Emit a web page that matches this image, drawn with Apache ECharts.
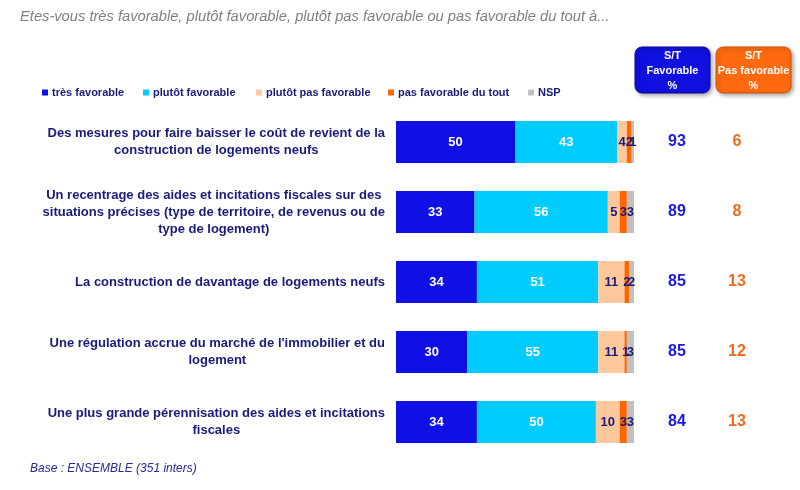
<!DOCTYPE html>
<html>
<head>
<meta charset="utf-8">
<script src="https://cdn.jsdelivr.net/npm/echarts@6/dist/echarts.min.js"></script>
<style>
  html, body { margin: 0; padding: 0; background: #fff; }
  #chart { width: 800px; height: 490px; }
</style>
</head>
<body>
<div id="chart"></div>
<script>
// survey items, top to bottom
const items = [
  'Des mesures pour faire baisser le coût de revient de la\nconstruction de logements neufs',
  'Un recentrage des aides et incitations fiscales sur des\nsituations précises (type de territoire, de revenus ou de\ntype de logement)',
  'La construction de davantage de logements neufs',
  'Une régulation accrue du marché de l\'immobilier et du\nlogement',
  'Une plus grande pérennisation des aides et incitations\nfiscales'
];
const seriesNames = ['très favorable', 'plutôt favorable', 'plutôt pas favorable', 'pas favorable du tout', 'NSP'];
const tresFavorable = [50, 33, 34, 30, 34];
const plutotFavorable = [43, 56, 51, 55, 50];
const plutotPasFavorable = [4, 5, 11, 11, 10];
const pasFavorableDuTout = [2, 3, 2, 1, 3];
const nsp = [1, 3, 2, 3, 3];
const stFavorable = [93, 89, 85, 85, 84];
const stPasFavorable = [6, 8, 13, 12, 13];

const colors = ['#0f0fe6', '#00ccff', '#fcc89c', '#ff6600', '#c0c0c0'];
const labelColors = ['#fff', '#fff', '#1a1a7a', '#1a1a7a', '#1a1a7a'];
const values = [tresFavorable, plutotFavorable, plutotPasFavorable, pasFavorableDuTout, nsp];
const legendLefts = [42, 143, 256, 388, 528];

const chart = echarts.init(document.getElementById('chart'));

const series = seriesNames.map((name, i) => ({
  name: name,
  type: 'bar',
  stack: 'total',
  barWidth: 42,
  data: values[i],
  itemStyle: { color: colors[i] },
  label: {
    show: true,
    position: 'inside',
    color: labelColors[i],
    fontFamily: 'Liberation Sans, Arial, sans-serif',
    fontWeight: 'bold',
    fontSize: 13
  }
}));

// one legend per item so each sits where the original puts it
const legends = seriesNames.map((name, i) => ({
  data: [name],
  left: legendLefts[i],
  top: 87,
  icon: 'rect',
  itemWidth: 6,
  itemHeight: 6,
  itemGap: 0,
  padding: 0,
  textStyle: {
    color: '#1a1a7a',
    fontFamily: 'Liberation Sans, Arial, sans-serif',
    fontWeight: 'bold',
    fontSize: 11,
    padding: [0, 0, 0, -1]
  }
}));

const boxText = { fill: '#fff', align: 'center', font: 'bold 11px Liberation Sans, Arial, sans-serif', lineHeight: 15 };

const option = {
  animation: false,
  textStyle: { fontFamily: 'Liberation Sans, Arial, sans-serif' },
  title: {
    text: 'Etes-vous très favorable, plutôt favorable, plutôt pas favorable ou pas favorable du tout à...',
    left: 15,
    top: 4,
    textStyle: { color: '#7f7f7f', fontStyle: 'italic', fontWeight: 'normal', fontSize: 14.7 }
  },
  legend: legends,
  grid: { left: 396, right: 166, top: 107, height: 350 },
  xAxis: { type: 'value', min: 0, max: 100, show: false },
  yAxis: [
    {
      type: 'category',
      inverse: true,
      data: items,
      axisLine: { show: false },
      axisTick: { show: false },
      axisLabel: {
        margin: 11,
        align: 'right',
        formatter: v => v.split('\n').map(l => '{c|' + l + '}').join('\n'),
        rich: {
          c: {
            align: 'center',
            color: '#1a1a7a',
            fontWeight: 'bold',
            fontSize: 13,
            lineHeight: 17,
            fontFamily: 'Liberation Sans, Arial, sans-serif'
          }
        }
      }
    },
    {
      type: 'category',
      inverse: true,
      position: 'right',
      data: items,
      axisLine: { show: false },
      axisTick: { show: false },
      axisLabel: {
        margin: 13,
        align: 'left',
        formatter: (v, i) => '{f|' + stFavorable[i] + '}{p|' + stPasFavorable[i] + '}',
        rich: {
          f: { width: 60, align: 'center', color: '#1a1ae6', fontWeight: 'bold', fontSize: 16 },
          p: { width: 60, align: 'center', color: '#f26a1b', fontWeight: 'bold', fontSize: 16 }
        }
      }
    }
  ],
  graphic: [
    {
      type: 'rect',
      shape: { x: 635, y: 47, width: 75, height: 46, r: 7 },
      style: { fill: '#1010e0', stroke: '#0a0a90', lineWidth: 1, shadowBlur: 4, shadowOffsetX: 2, shadowOffsetY: 2, shadowColor: 'rgba(0,0,0,0.35)' }
    },
    { type: 'text', x: 672.5, y: 48, style: Object.assign({ text: 'S/T\nFavorable\n%' }, boxText) },
    {
      type: 'rect',
      shape: { x: 716, y: 47, width: 75, height: 46, r: 7 },
      style: { fill: '#ff6a10', stroke: '#d05000', lineWidth: 1, shadowBlur: 4, shadowOffsetX: 2, shadowOffsetY: 2, shadowColor: 'rgba(0,0,0,0.35)' }
    },
    { type: 'text', x: 753.5, y: 48, style: Object.assign({ text: 'S/T\nPas favorable\n%' }, boxText) },
    {
      type: 'text',
      x: 30, y: 463,
      style: { text: 'Base : ENSEMBLE (351 inters)', fill: '#2a2a90', font: 'italic 12px Liberation Sans, Arial, sans-serif' }
    }
  ],
  series: series
};

chart.setOption(option);
</script>
</body>
</html>
